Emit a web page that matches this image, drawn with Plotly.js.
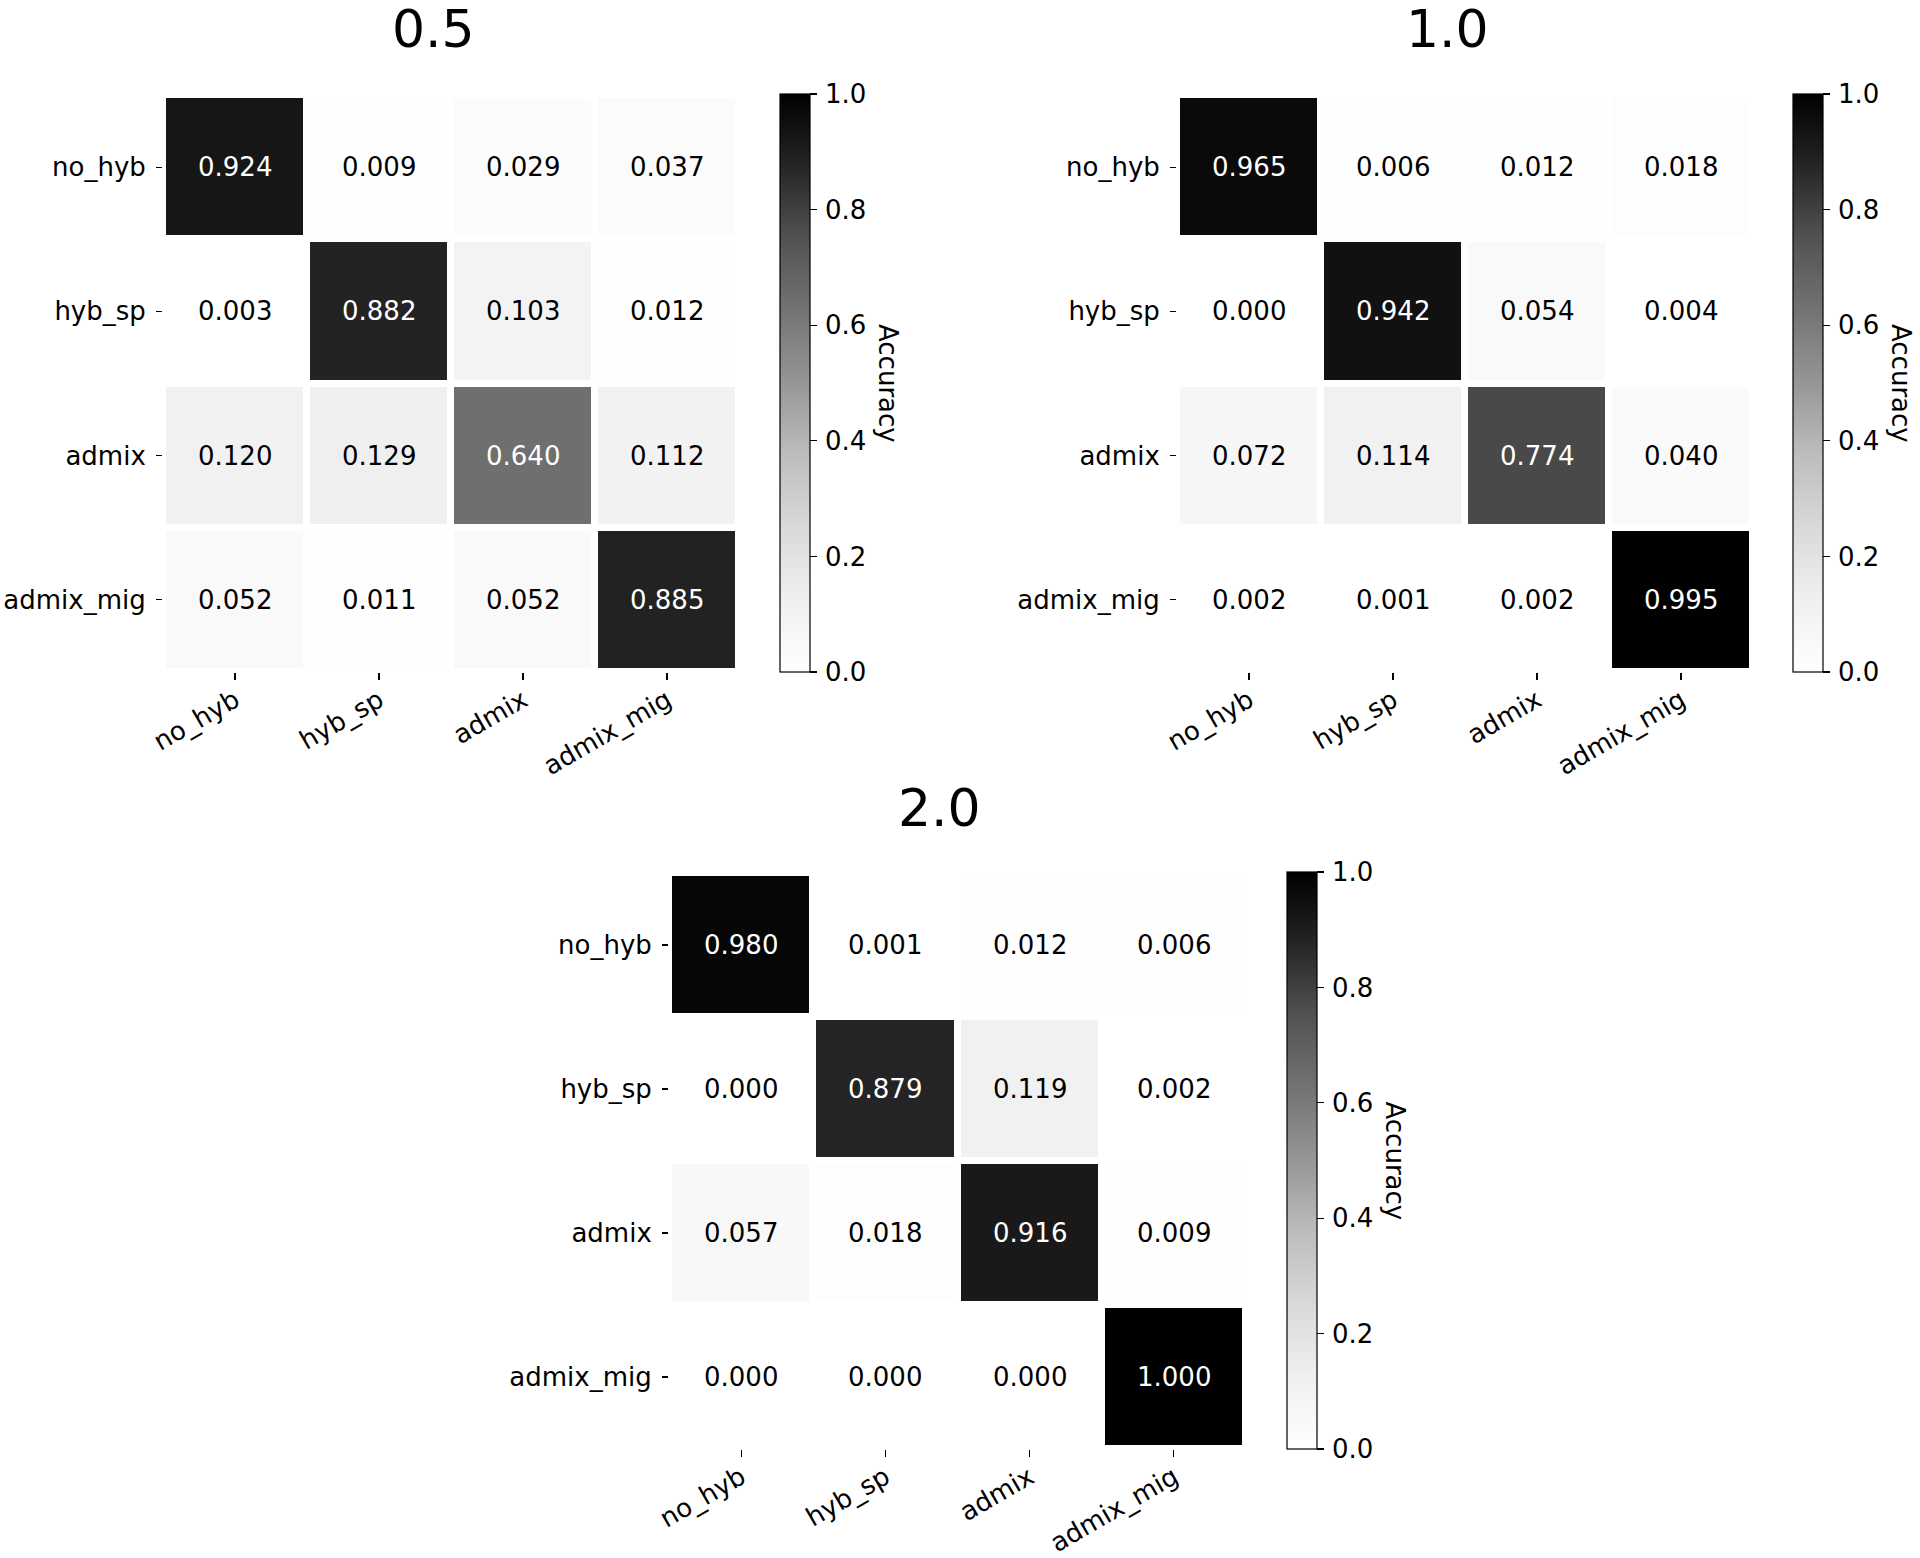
<!DOCTYPE html>
<html>
<head>
<meta charset="utf-8">
<script src="https://cdn.plot.ly/plotly-3.0.1.min.js"></script>
<style>
  html, body { margin: 0; padding: 0; background: #fff; }
  #chart { width: 1920px; height: 1558px; }
</style>
</head>
<body>
<div id="chart"></div>
<script>
// Class labels and accuracy matrices (rows = true class, cols = predicted):
const classes = ["no_hyb", "hyb_sp", "admix", "admix_mig"];
const acc05 = [
    [0.924, 0.009, 0.029, 0.037],
    [0.003, 0.882, 0.103, 0.012],
    [0.120, 0.129, 0.640, 0.112],
    [0.052, 0.011, 0.052, 0.885]
];
const acc10 = [
    [0.965, 0.006, 0.012, 0.018],
    [0.000, 0.942, 0.054, 0.004],
    [0.072, 0.114, 0.774, 0.040],
    [0.002, 0.001, 0.002, 0.995]
];
const acc20 = [
    [0.980, 0.001, 0.012, 0.006],
    [0.000, 0.879, 0.119, 0.002],
    [0.057, 0.018, 0.916, 0.009],
    [0.000, 0.000, 0.000, 1.000]
];
const panelTitles = ["0.5", "1.0", "2.0"];
const colorTicks = [0.0, 0.2, 0.4, 0.6, 0.8, 1.0];
const colorbarTitle = "Accuracy";

const W = 1920, H = 1558;
const px = x => x / W;
const py = y => 1 - y / H;

// matplotlib "Greys"
const greys = [
    [0, "#ffffff"], [0.125, "#f0f0f0"], [0.25, "#d9d9d9"], [0.375, "#bdbdbd"],
    [0.5, "#969696"], [0.625, "#737373"], [0.75, "#525252"], [0.875, "#252525"], [1, "#000000"]
];
const FONT = "DejaVu Sans";

// Pixel boxes for each panel: heatmap domain, colorbar left, colorbar centre/length, title position:
const panels = [
    { z: acc05, x0: 163, x1: 739, y0: 95, y1: 672, cbx: 780, cby: 383, cblen: 578, tx: 433, ty: 29, labx: 888 },
    { z: acc10, x0: 1177, x1: 1753, y0: 95, y1: 672, cbx: 1793, cby: 383, cblen: 578, tx: 1447, ty: 29, labx: 1901 },
    { z: acc20, x0: 669, x1: 1246, y0: 873, y1: 1449, cbx: 1287, cby: 1160.5, cblen: 577, tx: 939, ty: 808, labx: 1395 }
];

const traces = [];
const annotations = [];
const layout = {
    width: W,
    height: H,
    margin: { l: 0, r: 0, t: 0, b: 0 },
    paper_bgcolor: "#fff",
    plot_bgcolor: "#fff",
    font: { family: FONT, color: "#000", size: 26 },
    showlegend: false
};

panels.forEach((p, k) => {
    const s = k === 0 ? "" : String(k + 1);

    traces.push({
        type: "heatmap",
        x: classes,
        y: classes,
        z: p.z,
        xaxis: "x" + s,
        yaxis: "y" + s,
        zmin: 0,
        zmax: 1,
        colorscale: greys,
        xgap: 7,
        ygap: 7,
        hoverinfo: "skip",
        colorbar: {
            x: px(p.cbx),
            xanchor: "left",
            xpad: 0,
            y: py(p.cby),
            yanchor: "middle",
            ypad: 0,
            len: p.cblen / H,
            lenmode: "fraction",
            thickness: 30,
            thicknessmode: "pixels",
            outlinewidth: 1.2,
            outlinecolor: "#000",
            ticks: "outside",
            ticklen: 7,
            tickwidth: 1.2,
            tickcolor: "#000",
            tickvals: colorTicks,
            // hair space: tiny extra pad between tick and label
            ticktext: colorTicks.map(v => "\u200a" + v.toFixed(1)),
            tickfont: { family: FONT, size: 26, color: "#000" }
        }
    });

    // Axis formatting:
    layout["xaxis" + s] = {
        domain: [px(p.x0), px(p.x1)],
        anchor: "y" + s,
        range: [-0.5, 3.5],
        showgrid: false,
        zeroline: false,
        showline: false,
        ticks: "outside",
        ticklen: 7,
        tickwidth: 1.2,
        tickcolor: "#000",
        tickangle: -30,
        ticklabelstandoff: -5,
        tickfont: { family: FONT, size: 26, color: "#000" },
        fixedrange: true
    };
    layout["yaxis" + s] = {
        domain: [py(p.y1), py(p.y0)],
        anchor: "x" + s,
        range: [3.5, -0.5],
        showgrid: false,
        zeroline: false,
        showline: false,
        ticks: "outside",
        ticklen: 6,
        tickwidth: 1.2,
        tickcolor: "#000",
        ticklabelstandoff: 5,
        tickfont: { family: FONT, size: 26, color: "#000" },
        fixedrange: true
    };

    // Cell values:
    p.z.forEach((row, i) => {
        row.forEach((v, j) => {
            annotations.push({
                xref: "x" + s,
                yref: "y" + s,
                x: classes[j],
                y: classes[i],
                text: v.toFixed(3),
                showarrow: false,
                font: { family: FONT, size: 26, color: v > 0.5 ? "#fff" : "#000" }
            });
        });
    });

    // Panel title:
    annotations.push({
        xref: "paper",
        yref: "paper",
        x: px(p.tx),
        y: py(p.ty),
        xanchor: "center",
        yanchor: "middle",
        text: panelTitles[k],
        showarrow: false,
        font: { family: FONT, size: 52, color: "#000" }
    });

    // Colorbar label:
    annotations.push({
        xref: "paper",
        yref: "paper",
        x: px(p.labx),
        y: py(p.cby),
        xanchor: "center",
        yanchor: "middle",
        text: colorbarTitle,
        textangle: 90,
        showarrow: false,
        font: { family: FONT, size: 26, color: "#000" }
    });
});

layout.annotations = annotations;

Plotly.newPlot("chart", traces, layout, { displayModeBar: false, staticPlot: true });
</script>
</body>
</html>
